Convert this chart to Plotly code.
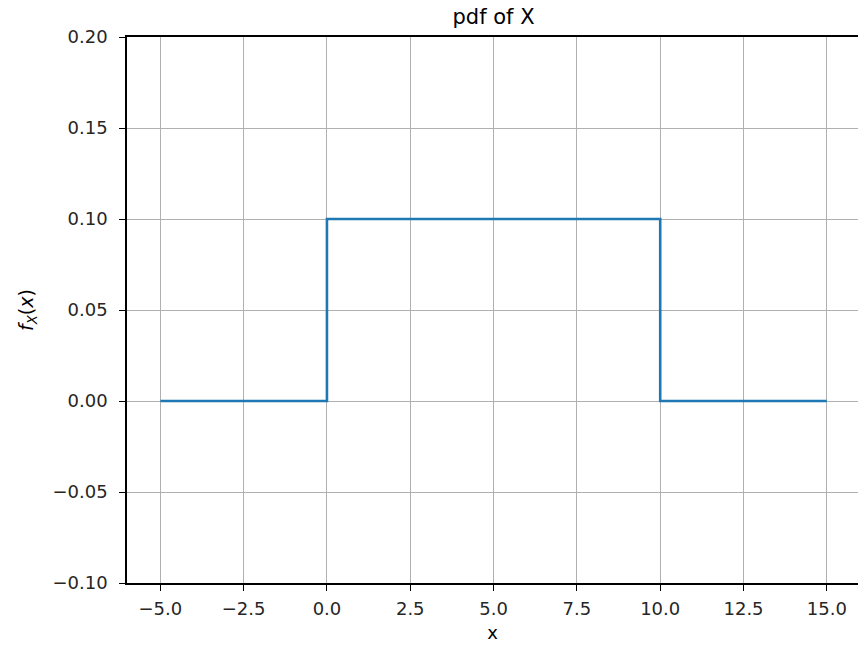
import plotly.graph_objects as go

x_vals = [-5.0, 0.0, 0.0, 10.0, 10.0, 15.0]
y_vals = [0.0, 0.0, 0.1, 0.1, 0.0, 0.0]
x_ticks = [-5.0, -2.5, 0.0, 2.5, 5.0, 7.5, 10.0, 12.5, 15.0]
y_ticks = [-0.10, -0.05, 0.00, 0.05, 0.10, 0.15, 0.20]

def fmt(v, d):
    s = f"{abs(v):.{d}f}"
    return ("\u2212" + s) if v < 0 else s

fig = go.Figure()
fig.add_trace(go.Scatter(x=x_vals, y=y_vals, mode="lines",
                         line=dict(color="#1f77b4", width=2.6), showlegend=False))

tickfont = dict(family="DejaVu Sans", size=18, color="#262626")
fig.update_layout(
    width=858, height=649,
    margin=dict(l=127, r=0, t=37, b=66),
    paper_bgcolor="white", plot_bgcolor="white",
    font=tickfont,
    title=dict(text="pdf of X", x=(127 + 860) / 2 / 858, xanchor="center",
               y=1 - 17 / 649, yanchor="middle",
               font=dict(family="DejaVu Sans", size=21, color="black")),
    xaxis=dict(range=[-6, -6 + (858 - 127) / 33.325], tickvals=x_ticks,
               ticktext=[fmt(v, 1) for v in x_ticks], tickfont=tickfont,
               showgrid=True, gridcolor="#b0b0b0", gridwidth=1.4,
               showline=True, linecolor="black", linewidth=1.5, mirror=True,
               ticks="outside", ticklen=6, tickwidth=1.4, tickcolor="black",
               ticklabelstandoff=3,
               zeroline=False,
               title=dict(text="x", font=dict(family="DejaVu Sans", size=18, color="black"), standoff=8)),
    yaxis=dict(range=[-0.10, 0.20], tickvals=y_ticks,
               ticktext=[fmt(v, 2) for v in y_ticks], tickfont=tickfont,
               showgrid=True, gridcolor="#b0b0b0", gridwidth=1.4,
               showline=True, linecolor="black", linewidth=1.5,
               ticks="outside", ticklen=6, tickwidth=1.4, tickcolor="black",
               ticklabelstandoff=8,
               zeroline=False,
               title=dict(text="<i>f</i><sub><i>X</i></sub>(<i>x</i>)",
                          font=dict(family="DejaVu Sans", size=19, color="black"), standoff=14)),
)
fig.write_html("out.html")
